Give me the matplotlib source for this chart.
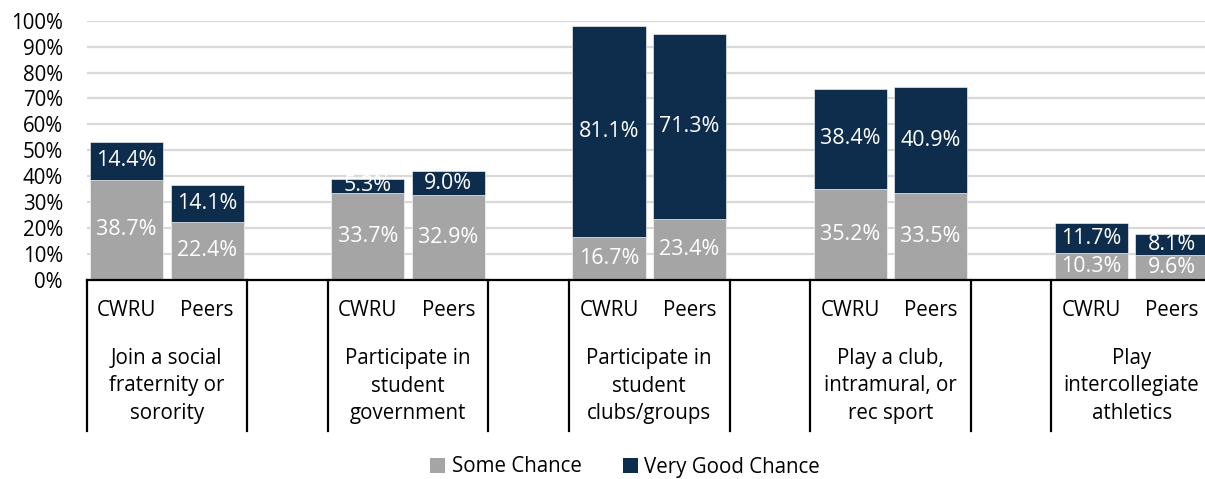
import matplotlib
matplotlib.use("Agg")
import matplotlib.pyplot as plt
import matplotlib.transforms as mtransforms
from matplotlib.patches import Patch

plt.rcParams['font.family'] = ['Open Sans', 'DejaVu Sans']

groups = ["Join a social\nfraternity or\nsorority",
          "Participate in\nstudent\ngovernment",
          "Participate in\nstudent\nclubs/groups",
          "Play a club,\nintramural, or\nrec sport",
          "Play\nintercollegiate\nathletics"]
members = ["CWRU", "Peers"]
some_chance = [[38.7, 22.4], [33.7, 32.9], [16.7, 23.4], [35.2, 33.5], [10.3, 9.6]]
very_good = [[14.4, 14.1], [5.3, 9.0], [81.1, 71.3], [38.4, 40.9], [11.7, 8.1]]
series_names = ["Some Chance", "Very Good Chance"]
y_ticks = [0, 10, 20, 30, 40, 50, 60, 70, 80, 90, 100]

c_gray = "#A5A5A5"
c_navy = "#0E2D4C"

W, H = 1205, 479
fig = plt.figure(figsize=(W / 100, H / 100), dpi=100)
left_px, right_px = 86.5, 1212.0
top_px, bot_px = 20.7, 280.0
ax = fig.add_axes([left_px / W, (H - bot_px) / H, (right_px - left_px) / W, (bot_px - top_px) / H])

xs, sc, vg, labs = [], [], [], []
for gi in range(len(groups)):
    for mi in range(len(members)):
        xs.append(gi * 3 + mi)
        sc.append(some_chance[gi][mi])
        vg.append(very_good[gi][mi])
        labs.append(members[mi])

bw = 0.91
ax.bar(xs, sc, width=bw, color=c_gray, zorder=3, edgecolor="white", linewidth=0.4)
ax.bar(xs, vg, bottom=sc, width=bw, color=c_navy, zorder=3, edgecolor="white", linewidth=0.4)

fs = 14.8
for x, a, b in zip(xs, sc, vg):
    ax.text(x, a / 2, f"{a:.1f}%", ha="center", va="center", color="white", fontsize=fs + 0.6, zorder=4)
    ax.text(x, a + b / 2, f"{b:.1f}%", ha="center", va="center", color="white", fontsize=fs + 0.6, zorder=4)

ax.set_xlim(-0.5, 13.5)
ax.set_ylim(0, 100)
ax.set_yticks(y_ticks)
ax.set_yticklabels([f"{t}%" for t in y_ticks], fontsize=fs)
ax.tick_params(axis="y", length=0, pad=17)
ax.set_xticks([])
for s in ["left", "right", "top"]:
    ax.spines[s].set_visible(False)
ax.spines["bottom"].set_color("black")
ax.spines["bottom"].set_linewidth(1.6)
ax.spines["bottom"].set_zorder(5)
ax.yaxis.grid(True, color="#D9D9D9", linewidth=1.6, zorder=0)
ax.set_axisbelow(True)

trans = mtransforms.blended_transform_factory(ax.transData, fig.transFigure)
def fy(px):
    return (H - px) / H

for x, l in zip(xs, labs):
    ax.text(x, fy(311), l, transform=trans, ha="center", va="center", fontsize=fs, clip_on=False)
for gi, g in enumerate(groups):
    ax.text(gi * 3 + 0.5, fy(386), g, transform=trans, ha="center", va="center",
            fontsize=fs, linespacing=1.43, clip_on=False)
seps = []
for gi in range(len(groups)):
    seps += [gi * 3 - 0.5, gi * 3 + 1.5]
for s in seps:
    ax.plot([s, s], [fy(280), fy(431)], transform=trans, color="black", linewidth=1.6, clip_on=False)

handles = [Patch(facecolor=c_gray, label=series_names[0]), Patch(facecolor=c_navy, label=series_names[1])]
fig.legend(handles=handles, loc="center", bbox_to_anchor=(625 / W, fy(467)), ncol=2, frameon=False,
           fontsize=fs, handlelength=0.75, handleheight=0.75, handletextpad=0.3, columnspacing=2.0)

fig.savefig("out.png", dpi=100)
